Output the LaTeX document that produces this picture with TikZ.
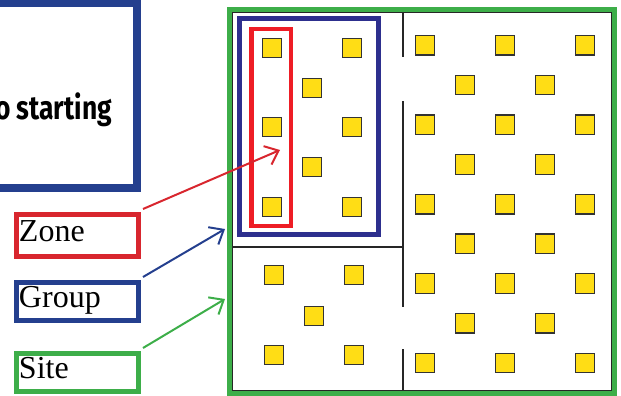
\documentclass[tikz,border=0pt]{standalone}
\usepackage{fontspec}
\setmainfont{Liberation Serif}
\newfontfamily\headfont{Fira Sans}
\usetikzlibrary{arrows.meta}

\definecolor{zonered}{HTML}{D8262E}
\definecolor{boxred}{HTML}{EE1D25}
\definecolor{groupblue}{HTML}{243F8E}
\definecolor{boxblue}{HTML}{2D2F8E}
\definecolor{sitegreen}{HTML}{3DAE49}
\definecolor{lampyellow}{HTML}{FFDD15}
\definecolor{lampedge}{HTML}{333333}

\tikzset{
    lamp/.style={draw=lampedge, fill=lampyellow, line width=1.3pt, minimum size=19.5pt, inner sep=0pt},
    tag/.style={draw, line width=5pt, minimum width=122pt, inner sep=3pt, text width=116pt, align=left,
        text height=16pt, text depth=3pt, font=\fontsize{32}{32}\selectfont},
    wall/.style={line width=1.6pt, draw=black!85},
    pointer/.style={line width=2pt, -{Straight Barb[length=12pt,width=20pt]}}
}

\begin{document}
\begin{tikzpicture}[x=1pt, y=-1pt]
    \useasboundingbox (0,0) rectangle (621,396);

    % box on the left, cut by the page
    \draw[groupblue, line width=8pt] (-20,3.5) rectangle (137,187.5);
    \node[anchor=base east, inner sep=0pt, font=\headfont\bfseries\fontsize{33}{33}\selectfont] (intro) at (112,119) {\scalebox{0.8}[1]{o starting}};

    % site
    \draw[black!85, line width=1pt] (232.5,12.5) rectangle (611.5,390.5);
    \draw[sitegreen, line width=5pt] (229.5,9.5) rectangle (614.5,393.5);
    \draw[wall] (403,12) -- (403,57);
    \draw[wall] (403,101) -- (403,307);
    \draw[wall] (403,349) -- (403,390);
    \draw[wall] (232,247) -- (403,247);

    % group and zone
    \draw[boxblue, line width=5pt] (239,19) rectangle (378,234);
    \draw[boxred, line width=4.5pt] (251.5,29) rectangle (291,226);

    % lamps
    \foreach \x/\y [count=\i] in {272/48, 352/48, 312/88, 272/127, 352/127, 312/167, 272/207, 352/207}
        \node[lamp] (g\i) at (\x,\y) {};
    \foreach \x/\y [count=\i] in {274/275, 354/275, 314/316, 274/355, 354/355}
        \node[lamp] (b\i) at (\x,\y) {};
    \foreach \r in {0,2,4,6,8}
        \foreach \c in {425,505,585}
            \node[lamp] (r\r-\c) at (\c,{45.3+39.7*\r}) {};
    \foreach \r in {1,3,5,7}
        \foreach \c in {465,545}
            \node[lamp] (r\r-\c) at (\c,{45.3+39.7*\r}) {};

    % labels
    \node[tag, draw=zonered, minimum height=42pt] (zonelbl) at (77,235) {Zone};
    \node[tag, draw=groupblue, minimum height=38pt] (grouplbl) at (77,301) {Group};
    \node[tag, draw=sitegreen, minimum height=38pt] (sitelbl) at (77,372) {Site};

    \coordinate (zonetip) at (280,150);
    \coordinate (grouptip) at (225,229);
    \coordinate (sitetip) at (225,299);

    \draw[pointer, zonered] ([xshift=2.5pt,yshift=2.5pt]zonelbl.north east) -- (zonetip);
    \draw[pointer, groupblue] ([xshift=2.5pt,yshift=2.5pt]grouplbl.north east) -- (grouptip);
    \draw[pointer, sitegreen] ([xshift=2.5pt,yshift=2.5pt]sitelbl.north east) -- (sitetip);
\end{tikzpicture}
\end{document}
